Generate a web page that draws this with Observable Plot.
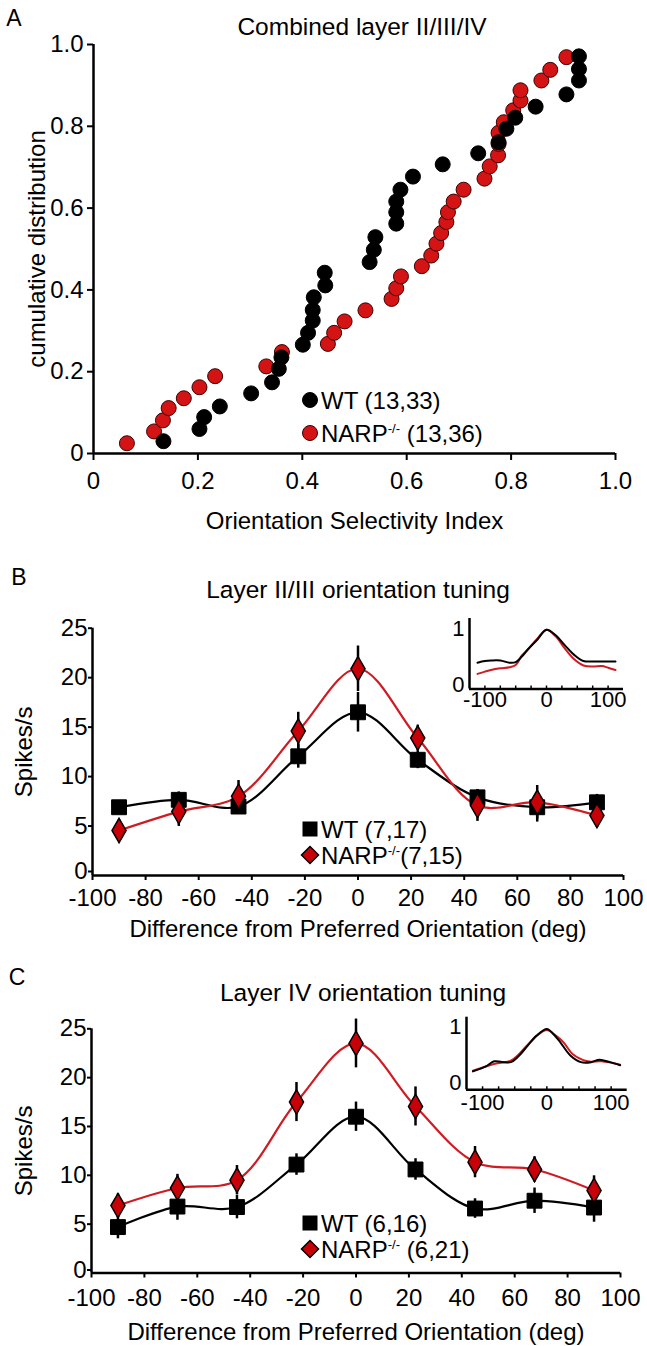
<!DOCTYPE html>
<html>
<head>
<meta charset="utf-8">
<script src="https://cdn.jsdelivr.net/npm/d3@7"></script>
<script src="https://cdn.jsdelivr.net/npm/@observablehq/plot@0.6"></script>
<style>
html, body { margin: 0; padding: 0; background: #fff; overflow: hidden; }
#fig { position: relative; width: 647px; height: 1346px; font-family: "Liberation Sans", Arial, sans-serif; color: #000; overflow: hidden; }
.slot { position: absolute; }
.lbl { position: absolute; white-space: nowrap; line-height: 1; transform: translate(-50%, -50%); }
.leg { position: absolute; white-space: nowrap; line-height: 1; transform: translateY(-50%); font-size: 24px; }
.leg sup { font-size: 0.55em; vertical-align: 0.75em; }
.mk { position: absolute; transform: translate(-50%, -50%); line-height: 0; }
</style>
</head>
<body>
<div id="fig"></div>
<script>
// ---------- Panel A: cumulative distribution of OSI ----------
const wtOSI = [0.134, 0.203, 0.212, 0.242, 0.302, 0.342, 0.355, 0.360, 0.401, 0.411, 0.420, 0.420, 0.422, 0.444, 0.443, 0.529, 0.537, 0.540, 0.580, 0.580, 0.580, 0.588, 0.612, 0.669, 0.737, 0.776, 0.791, 0.808, 0.847, 0.906, 0.930, 0.930, 0.930];
const wtCum = [0.030, 0.060, 0.089, 0.115, 0.147, 0.174, 0.207, 0.235, 0.266, 0.295, 0.325, 0.351, 0.382, 0.411, 0.442, 0.468, 0.498, 0.529, 0.562, 0.590, 0.616, 0.645, 0.677, 0.707, 0.734, 0.761, 0.794, 0.821, 0.848, 0.878, 0.912, 0.940, 0.971];
const narpOSI = [0.064, 0.116, 0.133, 0.144, 0.173, 0.203, 0.233, 0.331, 0.361, 0.449, 0.461, 0.481, 0.521, 0.571, 0.580, 0.589, 0.629, 0.647, 0.657, 0.666, 0.676, 0.679, 0.690, 0.709, 0.749, 0.759, 0.775, 0.776, 0.776, 0.786, 0.804, 0.818, 0.818, 0.858, 0.875, 0.906];
const narpCum = [0.025, 0.054, 0.081, 0.111, 0.135, 0.162, 0.189, 0.213, 0.248, 0.268, 0.295, 0.323, 0.350, 0.378, 0.404, 0.433, 0.458, 0.484, 0.513, 0.539, 0.566, 0.590, 0.616, 0.645, 0.672, 0.702, 0.729, 0.757, 0.784, 0.810, 0.839, 0.863, 0.888, 0.912, 0.938, 0.969];
const aXDomain = [0, 1];
const aYDomain = [0, 1];
const aXTicks = [0, 0.2, 0.4, 0.6, 0.8, 1.0];
const aXTickLabels = ["0", "0.2", "0.4", "0.6", "0.8", "1.0"];
const aYTicks = [0, 0.2, 0.4, 0.6, 0.8, 1.0];
const aYTickLabels = ["0", "0.2", "0.4", "0.6", "0.8", "1.0"];

// ---------- Panels B & C: orientation tuning ----------
const angles = [-90, -67.5, -45, -22.5, 0, 22.5, 45, 67.5, 90];
const bWT = [6.9, 7.65, 6.97, 12.05, 16.5, 11.7, 7.9, 6.9, 7.4];
const bWTsem = [0.6, 0.8, 0.7, 1.2, 2.0, 0.9, 0.8, 1.5, 0.8];
const bNARP = [4.55, 6.46, 8.0, 14.6, 20.9, 13.9, 7.07, 7.4, 6.06];
const bNARPsem = [1.1, 1.5, 1.6, 1.9, 2.3, 1.3, 1.6, 1.7, 1.2];
const cWT = [4.7, 6.8, 6.75, 11.1, 16.0, 10.6, 6.6, 7.4, 6.7];
const cWTsem = [1.2, 1.4, 1.2, 1.1, 1.5, 1.1, 1.0, 1.3, 1.5];
const cNARP = [6.9, 8.7, 9.5, 17.5, 23.5, 17.05, 11.35, 10.6, 8.45];
const cNARPsem = [1.2, 1.4, 1.5, 2.0, 2.5, 2.0, 1.6, 1.3, 1.5];
const tuningXDomain = [-100, 100];
const tuningYDomain = [0, 25];
const tuningXTicks = [-100, -80, -60, -40, -20, 0, 20, 40, 60, 80, 100];
const tuningXTickLabels = ["-100", "-80", "-60", "-40", "-20", "0", "20", "40", "60", "80", "100"];
const tuningYTicks = [0, 5, 10, 15, 20, 25];
const tuningYTickLabels = ["0", "5", "10", "15", "20", "25"];

// ---------- Insets: normalized tuning ----------
const insetBx = [-112, -100, -90, -75, -60, -50, -40, -30, -15, 0, 15, 30, 45, 60, 75, 90, 100, 112];
const insetBwt = [0.39, 0.42, 0.43, 0.43, 0.39, 0.40, 0.50, 0.63, 0.80, 0.98, 0.88, 0.70, 0.53, 0.42, 0.41, 0.41, 0.41, 0.41];
const insetBnarp = [0.19, 0.23, 0.26, 0.29, 0.31, 0.35, 0.52, 0.63, 0.82, 0.98, 0.86, 0.64, 0.45, 0.34, 0.32, 0.33, 0.30, 0.26];
const insetCxWT = [-115, -95, -82, -70, -56, -45, -32, -16, 0, 10, 21, 37, 53, 69, 82, 98, 114];
const insetCwt = [0.21, 0.30, 0.39, 0.38, 0.375, 0.47, 0.64, 0.85, 0.97, 0.88, 0.73, 0.49, 0.375, 0.375, 0.42, 0.375, 0.32];
const insetCxNARP = [-115, -79, -56, -45, -32, -13, 0, 13, 26, 40, 63, 85, 114];
const insetCnarp = [0.22, 0.35, 0.40, 0.50, 0.66, 0.87, 0.95, 0.86, 0.73, 0.52, 0.39, 0.39, 0.33];
const insetXDomain = [-125, 125];
const insetXTicks = [-100, -75, -50, -25, 0, 25, 50, 75, 100];
const insetXLabelTicks = [-100, 0, 100];
const insetXTickLabels = ["-100", "0", "100"];
const insetYTicks = [0, 1];
const insetYTickLabels = ["0", "1"];

const RED_DOT = "#d41414";
const RED_LINE = "#cf1b22";
const RED_DIAMOND = "#c80008";
const FONT = "'Liberation Sans', Arial, sans-serif";

const fig = document.getElementById("fig");
function place(el, left, top, z) {
  const d = document.createElement("div");
  d.className = "slot";
  d.style.left = left + "px";
  d.style.top = top + "px";
  if (z) d.style.zIndex = z;
  d.appendChild(el);
  fig.appendChild(d);
}
function label(html, cx, cy, size) {
  const d = document.createElement("div");
  d.className = "lbl";
  d.style.left = cx + "px";
  d.style.top = cy + "px";
  d.style.fontSize = size + "px";
  d.innerHTML = html;
  fig.appendChild(d);
}
function marker(svg, cx, cy) {
  const d = document.createElement("div");
  d.className = "mk";
  d.style.left = cx + "px";
  d.style.top = cy + "px";
  d.innerHTML = svg;
  fig.appendChild(d);
}
function legText(html, left, cy) {
  const d = document.createElement("div");
  d.className = "leg";
  d.style.left = left + "px";
  d.style.top = cy + "px";
  d.innerHTML = html;
  fig.appendChild(d);
}
const fmt = (ticks, labels) => (d) => labels[ticks.indexOf(d)];

// ---------- Panel A ----------
const wtRows = wtOSI.map((x, i) => ({x, y: wtCum[i]}));
const narpRows = narpOSI.map((x, i) => ({x, y: narpCum[i]}));
const chartA = Plot.plot({
  width: 647, height: 545,
  marginTop: 44, marginBottom: 92, marginLeft: 93, marginRight: 32,
  style: {fontFamily: FONT, fontSize: "24px", color: "#000", background: "transparent", overflow: "visible"},
  x: {domain: aXDomain},
  y: {domain: aYDomain},
  marks: [
    Plot.axisX({ticks: aXTicks, tickFormat: fmt(aXTicks, aXTickLabels), tickSize: 7, tickPadding: 11, strokeWidth: 2,
      label: "Orientation Selectivity Index", labelAnchor: "center", labelOffset: 75, labelArrow: "none"}),
    Plot.axisY({ticks: aYTicks, tickFormat: fmt(aYTicks, aYTickLabels), tickSize: 6, tickPadding: 4, strokeWidth: 2,
      label: "cumulative distribution", labelAnchor: "center", labelOffset: 66, labelArrow: "none"}),
    Plot.ruleY([aYDomain[0]], {stroke: "#000", strokeWidth: 2.5}),
    Plot.ruleX([aXDomain[0]], {stroke: "#000", strokeWidth: 2.5}),
    Plot.dot(narpRows, {x: "x", y: "y", r: 7.5, fill: RED_DOT, stroke: "#3a0000", strokeWidth: 1}),
    Plot.dot(wtRows, {x: "x", y: "y", r: 7.5, fill: "#000", stroke: "#000", strokeWidth: 1})
  ]
});
place(chartA, 0, 0);

// ---------- Panels B and C ----------
function tuning({wt, wtSem, narp, narpSem, height, marginTop, marginBottom, marginLeft, marginRight, xPad, xLabelOffset, yLabelOffset, zeroDy}) {
  const rows = angles.map((a, i) => ({a, wt: wt[i], ws: wtSem[i], n: narp[i], ns: narpSem[i]}));
  const upper = tuningYTicks.slice(1);
  return Plot.plot({
    width: 647, height, marginTop, marginBottom, marginLeft, marginRight,
    style: {fontFamily: FONT, fontSize: "24px", color: "#000", background: "transparent", overflow: "visible"},
    x: {domain: tuningXDomain},
    y: {domain: tuningYDomain},
    marks: [
      Plot.axisX({ticks: tuningXTicks, tickFormat: fmt(tuningXTicks, tuningXTickLabels), tickSize: 5, tickPadding: xPad, strokeWidth: 2,
        label: "Difference from Preferred Orientation (deg)", labelAnchor: "center", labelOffset: xLabelOffset, labelArrow: "none"}),
      Plot.axisY({ticks: upper, tickFormat: fmt(tuningYTicks, tuningYTickLabels), tickSize: 4, tickPadding: 1, strokeWidth: 2,
        label: "Spikes/s", labelAnchor: "center", labelOffset: yLabelOffset, labelArrow: "none"}),
      Plot.axisY({ticks: [tuningYTicks[0]], tickFormat: fmt(tuningYTicks, tuningYTickLabels), tickSize: 4, tickPadding: 1, strokeWidth: 2,
        dy: zeroDy, label: null}),
      Plot.ruleY([tuningYDomain[0]], {stroke: "#000", strokeWidth: 2.5}),
      Plot.ruleX([tuningXDomain[0]], {stroke: "#000", strokeWidth: 2.5}),
      Plot.line(rows, {x: "a", y: "wt", curve: "catmull-rom", stroke: "#000", strokeWidth: 2.2}),
      Plot.line(rows, {x: "a", y: "n", curve: "catmull-rom", stroke: RED_LINE, strokeWidth: 2.2}),
      Plot.ruleX(rows, {x: "a", y1: (d) => d.wt - d.ws, y2: (d) => d.wt + d.ws, stroke: "#000", strokeWidth: 2.5}),
      Plot.ruleX(rows, {x: "a", y1: (d) => d.n - d.ns, y2: (d) => d.n + d.ns, stroke: "#000", strokeWidth: 2.5}),
      Plot.dot(rows, {x: "a", y: "wt", symbol: "square", r: 8.4, fill: "#000", stroke: "#000", strokeWidth: 1}),
      Plot.dot(rows, {x: "a", y: "n", symbol: "diamond", r: 7.4, fill: RED_DIAMOND, stroke: "#000", strokeWidth: 1.5})
    ]
  });
}
const chartB = tuning({wt: bWT, wtSem: bWTsem, narp: bNARP, narpSem: bNARPsem,
  height: 395, marginTop: 82.7, marginBottom: 65, marginLeft: 92, marginRight: 24, xPad: 8, xLabelOffset: 61, yLabelOffset: 78, zeroDy: -4});
place(chartB, 0, 545);
const chartC = tuning({wt: cWT, wtSem: cWTsem, narp: cNARP, narpSem: cNARPsem,
  height: 406, marginTop: 88.3, marginBottom: 73.5, marginLeft: 91, marginRight: 27, xPad: 11, xLabelOffset: 67, yLabelOffset: 77, zeroDy: -3});
place(chartC, 0, 940);

// ---------- Insets ----------
function inset({wx, wy, nx, ny, width, height, marginTop, marginBottom, marginLeft, marginRight, yDomain, xPad}) {
  const w = wx.map((x, i) => ({x, y: wy[i]}));
  const n = nx.map((x, i) => ({x, y: ny[i]}));
  return Plot.plot({
    width, height, marginTop, marginBottom, marginLeft, marginRight,
    style: {fontFamily: FONT, fontSize: "22px", color: "#000", background: "transparent", overflow: "visible"},
    x: {domain: insetXDomain},
    y: {domain: yDomain},
    marks: [
      Plot.axisX({ticks: insetXTicks, tickFormat: () => "", tickSize: -3, strokeWidth: 1.5, label: null}),
      Plot.axisX({ticks: insetXLabelTicks, tickFormat: fmt(insetXLabelTicks, insetXTickLabels), tickSize: 0, tickPadding: xPad, label: null}),
      Plot.axisY({ticks: insetYTicks, tickFormat: fmt(insetYTicks, insetYTickLabels), tickSize: 0, tickPadding: 5, label: null}),
      Plot.ruleY([yDomain[0]], {stroke: "#000", strokeWidth: 2.5}),
      Plot.ruleX([insetXDomain[0]], {stroke: "#000", strokeWidth: 2.5}),
      Plot.line(n, {x: "x", y: "y", curve: "catmull-rom", stroke: RED_LINE, strokeWidth: 2}),
      Plot.line(w, {x: "x", y: "y", curve: "catmull-rom", stroke: "#000", strokeWidth: 2})
    ]
  });
}
const insetBDomain = [-0.08, 1.18];
const insetCDomain = [-0.12, 1.18];
const insetB = inset({wx: insetBx, wy: insetBwt, nx: insetBx, ny: insetBnarp,
  width: 210, height: 120, marginTop: 18, marginBottom: 31.5, marginLeft: 39, marginRight: 17, yDomain: insetBDomain, xPad: 2});
place(insetB, 430, 600, 5);
const insetC = inset({wx: insetCxWT, wy: insetCwt, nx: insetCxNARP, ny: insetCnarp,
  width: 210, height: 120, marginTop: 16.7, marginBottom: 30.7, marginLeft: 36, marginRight: 13.3, yDomain: insetCDomain, xPad: 5});
place(insetC, 430, 1000, 5);

// ---------- Titles and panel letters ----------
label("A", 14, 18, 23);
label("Combined layer II/III/IV", 362, 27, 24.5);
label("B", 19, 577, 23);
label("Layer II/III orientation tuning", 358, 590, 24.5);
label("C", 17, 977, 23);
label("Layer IV orientation tuning", 363, 993, 24.5);

// ---------- Legends ----------
const circ = (c, s) => `<svg width="17" height="17"><circle cx="8.5" cy="8.5" r="7.5" fill="${c}" stroke="${s}" stroke-width="1"/></svg>`;
const sq = `<svg width="17" height="17"><rect x="1" y="1" width="15" height="15" fill="#000"/></svg>`;
const dia = `<svg width="20" height="20"><path d="M10,1.5L18.5,10L10,18.5L1.5,10Z" fill="${RED_DIAMOND}" stroke="#000" stroke-width="1.5"/></svg>`;
marker(circ("#000", "#000"), 310, 400); legText("WT (13,33)", 321, 401);
marker(circ(RED_DOT, "#3a0000"), 310, 433); legText("NARP<sup>-/-</sup> (13,36)", 321, 434);
marker(sq, 310, 829); legText("WT (7,17)", 321, 830);
marker(dia, 310, 855); legText("NARP<sup>-/-</sup>(7,15)", 321, 856);
marker(sq, 310, 1223); legText("WT (6,16)", 321, 1224);
marker(dia, 310, 1249); legText("NARP<sup>-/-</sup> (6,21)", 321, 1250);
</script>
</body>
</html>
